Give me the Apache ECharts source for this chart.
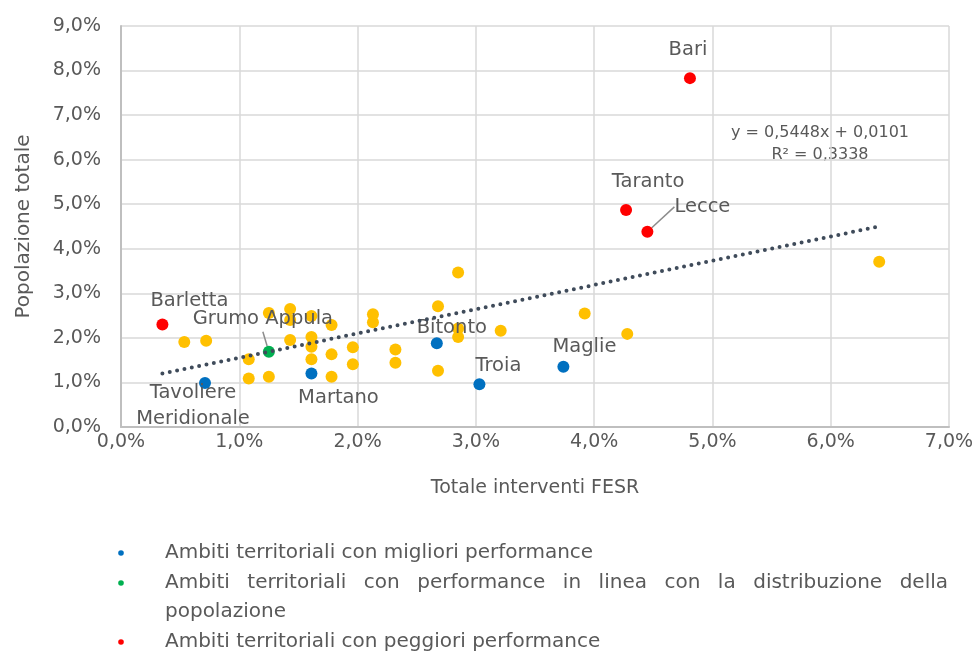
<!DOCTYPE html>
<html>
<head>
<meta charset="utf-8">
<script src="https://cdn.jsdelivr.net/npm/echarts@6/dist/echarts.min.js"></script>
<style>
  html, body { margin: 0; padding: 0; background: #fff; }
  #chart { width: 979px; height: 655px; }
</style>
</head>
<body>
<div id="chart"></div>
<script>
// valori in % (asse x: Totale interventi FESR, asse y: Popolazione totale)
const otherX = [0.535, 0.72, 1.08, 1.08, 1.25, 1.25, 1.43, 1.43, 1.43, 1.61, 1.61, 1.61, 1.61, 1.78, 1.78, 1.78, 1.96, 1.96, 2.13, 2.13, 2.32, 2.32, 2.68, 2.68, 2.85, 2.85, 2.85, 3.21, 3.92, 4.28, 6.41];
const otherY = [1.91, 1.935, 1.52, 1.09, 1.13, 2.56, 2.65, 2.40, 1.95, 2.49, 2.02, 1.80, 1.52, 2.29, 1.63, 1.13, 1.79, 1.41, 2.53, 2.35, 1.74, 1.44, 2.71, 1.26, 3.47, 2.21, 2.02, 2.16, 2.55, 2.09, 3.71];

const blueNames = ['Tavoliere\nMeridionale', 'Martano', 'Bitonto', 'Troia', 'Maglie'];
const blueX = [0.71, 1.61, 2.67, 3.03, 3.74];
const blueY = [0.99, 1.20, 1.88, 0.96, 1.35];

const greenNames = ['Grumo Appula'];
const greenX = [1.25];
const greenY = [1.69];

const redNames = ['Barletta', 'Taranto', 'Lecce', 'Bari'];
const redX = [0.35, 4.27, 4.45, 4.81];
const redY = [2.30, 4.87, 4.38, 7.83];

// linea di tendenza (estremi)
const trendX = [0.35, 6.41];
const trendY = [1.20, 4.50];
const trendText = ['y = 0,5448x + 0,0101', 'R² = 0,3338'];

const legendItems = [
  { color: '#0070c0', lines: ['Ambiti territoriali con migliori performance'] },
  { color: '#00b050', lines: ['Ambiti territoriali con performance in linea con la distribuzione della', 'popolazione'] },
  { color: '#ff0000', lines: ['Ambiti territoriali con peggiori performance'] }
];

const FONT = '"DejaVu Sans", sans-serif';
const TXT = '#595959';

// spostamento delle etichette rispetto al punto [dx, dy]
const labelOffset = {
  'Tavoliere\nMeridionale': [-12, 23],
  'Martano': [27, 24],
  'Bitonto': [15, -15],
  'Troia': [19, -18],
  'Maglie': [21, -20],
  'Grumo Appula': [-6, -33],
  'Barletta': [27, -24],
  'Taranto': [22, -28],
  'Lecce': [55, -25],
  'Bari': [-2, -28]
};
const withLeader = ['Grumo Appula', 'Lecce'];

function pts(xs, ys, names) {
  return xs.map((x, i) => {
    const item = { value: [x, ys[i]] };
    if (names) {
      item.name = names[i];
      if (withLeader.includes(names[i])) {
        item.labelLine = { show: true, lineStyle: { color: '#8c8c8c', width: 1.5 } };
      }
    }
    return item;
  });
}

const pctFmt = v => v.toFixed(1).replace('.', ',') + '%';

const labelCfg = {
  show: true,
  position: 'inside',
  formatter: '{b}',
  color: TXT,
  fontFamily: FONT,
  fontSize: 19.5,
  lineHeight: 26,
  align: 'center'
};

function scatter(name, color, data) {
  return {
    name: name,
    type: 'scatter',
    symbolSize: 12,
    itemStyle: { color: color, opacity: 1 },
    label: data.some(d => d.name) ? labelCfg : { show: false },
    labelLayout: function (p) {
      const o = labelOffset[p.text];
      return o ? { dx: o[0], dy: o[1] } : {};
    },
    data: data
  };
}

// legenda sotto il grafico, con la riga lunga giustificata
const measure = document.createElement('canvas').getContext('2d');
const legFont = '20px ' + FONT;
measure.font = legFont;
const graphics = [];
const legLineY = [553, 583, 612, 642];
const textX = 165, textRight = 948;
let li = 0;
legendItems.forEach(item => {
  graphics.push({ type: 'circle', shape: { cx: 121, cy: legLineY[li], r: 2.8 }, style: { fill: item.color } });
  item.lines.forEach((line, k) => {
    const y = legLineY[li];
    const justify = k < item.lines.length - 1;
    if (!justify) {
      graphics.push({ type: 'text', x: textX, y: y, style: { text: line, font: legFont, fill: TXT, verticalAlign: 'middle' } });
    } else {
      const words = line.split(' ');
      const widths = words.map(w => measure.measureText(w).width);
      const total = widths.reduce((a, b) => a + b, 0);
      const gap = (textRight - textX - total) / (words.length - 1);
      let x = textX;
      words.forEach((w, j) => {
        graphics.push({ type: 'text', x: x, y: y, style: { text: w, font: legFont, fill: TXT, verticalAlign: 'middle' } });
        x += widths[j] + gap;
      });
    }
    li++;
  });
});

graphics.push({
  type: 'text', x: 820, y: 144,
  style: { text: trendText.join('\n'), font: '16px ' + FONT, fill: TXT, align: 'center', verticalAlign: 'middle', lineHeight: 22 }
});

const chart = echarts.init(document.getElementById('chart'), null, { renderer: 'canvas' });
chart.setOption({
  animation: false,
  backgroundColor: '#fff',
  grid: { left: 121, right: 30, top: 26, bottom: 228, containLabel: false, outerBoundsMode: 'none' },
  xAxis: {
    type: 'value', min: 0, max: 7, interval: 1,
    name: 'Totale interventi FESR', nameLocation: 'middle', nameGap: 52,
    nameTextStyle: { color: TXT, fontFamily: FONT, fontSize: 19 },
    axisLine: { show: true, lineStyle: { color: '#bfbfbf', width: 2 } },
    axisTick: { show: false },
    axisLabel: { formatter: pctFmt, color: TXT, fontFamily: FONT, fontSize: 19, margin: 6 },
    splitLine: { show: true, lineStyle: { color: '#d9d9d9', width: 1.5 } }
  },
  yAxis: {
    type: 'value', min: 0, max: 9, interval: 1,
    name: 'Popolazione totale', nameLocation: 'middle', nameGap: 87, nameRotate: 90,
    nameTextStyle: { color: TXT, fontFamily: FONT, fontSize: 20 },
    axisLine: { show: true, lineStyle: { color: '#bfbfbf', width: 2 } },
    axisTick: { show: false },
    axisLabel: { formatter: pctFmt, color: TXT, fontFamily: FONT, fontSize: 19, margin: 20 },
    splitLine: { show: true, lineStyle: { color: '#d9d9d9', width: 1.5 } }
  },
  series: [
    scatter('Altri ambiti', '#ffc000', pts(otherX, otherY)),
    scatter('Migliori performance', '#0070c0', pts(blueX, blueY, blueNames)),
    scatter('In linea', '#00b050', pts(greenX, greenY, greenNames)),
    scatter('Peggiori performance', '#ff0000', pts(redX, redY, redNames)),
    {
      name: 'Tendenza', type: 'line', z: 5, symbol: 'none', silent: true,
      lineStyle: { color: '#3f4b5a', width: 4, type: [0, 7.5], cap: 'round' },
      data: trendX.map((x, i) => [x, trendY[i]])
    }
  ],
  graphic: graphics
});
</script>
</body>
</html>
